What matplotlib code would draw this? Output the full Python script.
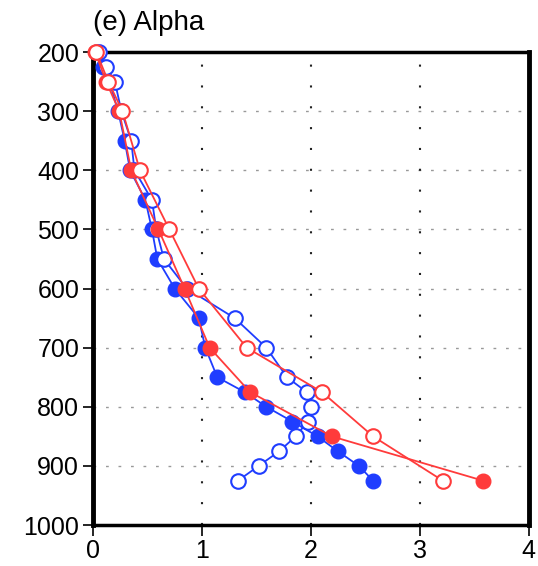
import numpy as np
import matplotlib
matplotlib.use("Agg")
import matplotlib.pyplot as plt

plt.rcParams['font.family'] = ['Liberation Sans', 'DejaVu Sans']

# niveles de presion (hPa)
lev_blue = [200, 225, 250, 300, 350, 400, 450, 500, 550, 600, 650, 700,
            750, 775, 800, 825, 850, 875, 900, 925]
lev_red = [200, 250, 300, 400, 500, 600, 700, 775, 850, 925]

# valores de alpha
blue_filled = [0.03, 0.09, 0.15, 0.23, 0.29, 0.34, 0.48, 0.54, 0.59, 0.75, 0.97, 1.03,
               1.14, 1.39, 1.59, 1.83, 2.06, 2.245, 2.44, 2.57]
blue_open = [0.05, 0.12, 0.20, 0.26, 0.35, 0.38, 0.54, 0.58, 0.65, 0.86, 1.30, 1.59,
             1.78, 1.96, 2.00, 1.97, 1.86, 1.71, 1.52, 1.33]
red_filled = [0.02, 0.12, 0.24, 0.35, 0.60, 0.84, 1.07, 1.44, 2.19, 3.58]
red_open = [0.03, 0.14, 0.27, 0.43, 0.70, 0.97, 1.41, 2.10, 2.57, 3.21]

blue = '#1f3dff'
red = '#ff3b3b'

fig = plt.figure(figsize=(5.38, 5.66), dpi=100)
ax = fig.add_axes([0.173, 0.0724, 0.810, 0.8356])

# rejilla
for p in range(200, 1001, 100):
    ax.axhline(p, color='#999999', lw=1.0, ls=(0, (2, 7)), zorder=1)
for xv in [1, 2, 3]:
    ax.axvline(xv, color='#222222', lw=1.5, ls=(0, (1, 9)), zorder=1)

ms = 10.5
ax.plot(blue_filled, lev_blue, '-o', color=blue, lw=1.3, ms=ms, mfc=blue, mec=blue,
        clip_on=False, zorder=3)
ax.plot(blue_open, lev_blue, '-o', color=blue, lw=1.3, ms=ms, mfc='white', mec=blue,
        mew=1.5, clip_on=False, zorder=3)
ax.plot(red_filled, lev_red, '-o', color=red, lw=1.3, ms=ms, mfc=red, mec=red,
        clip_on=False, zorder=4)
ax.plot(red_open, lev_red, '-o', color=red, lw=1.3, ms=ms, mfc='white', mec=red,
        mew=1.5, clip_on=False, zorder=4)

ax.set_xlim(0, 4)
ax.set_ylim(1000, 200)
ax.set_xticks([0, 1, 2, 3, 4])
ax.set_yticks(range(200, 1001, 100))
ax.tick_params(axis='both', direction='out', labelsize=18, width=1.2)
ax.tick_params(axis='x', length=8, pad=2)
ax.tick_params(axis='y', length=7, pad=3)

for side in ['left', 'right']:
    ax.spines[side].set_linewidth(3.5)
for side in ['top', 'bottom']:
    ax.spines[side].set_linewidth(2.5)

ax.text(0.0, 1.035, '(e) Alpha', transform=ax.transAxes, fontsize=20,
        ha='left', va='bottom')

plt.savefig('out.png', dpi=100)
